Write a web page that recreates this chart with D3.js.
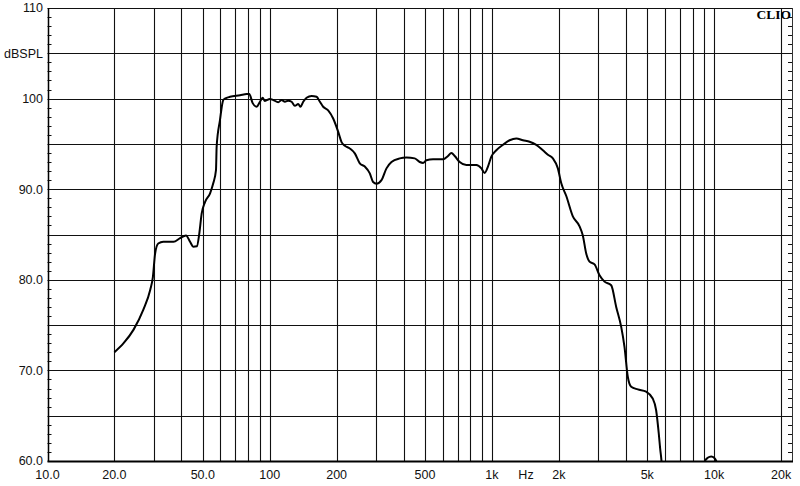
<!DOCTYPE html>
<html><head><meta charset="utf-8">
<script src="https://cdn.jsdelivr.net/npm/d3@7"></script>
<style>html,body{margin:0;padding:0;background:#fff;}svg{display:block;}</style>
</head><body>
<svg id="c" width="800" height="486"></svg>
<script>
const freqs = [20,22,24.4,27,29,29.8,30.5,31.5,33.2,36.9,39.5,42,43.8,45.3,47,48.2,49.4,51.2,53.9,55.7,57.3,57.7,59.7,61.8,62.9,66.3,73.5,78.8,80.9,83.8,87.3,90.4,92.9,95.1,100.2,103.7,109.2,113.1,117.1,121.1,125.4,129.8,134.3,137.7,141.5,146.5,154.3,162.5,168.2,174,183.2,193,203.2,210.5,217.8,229.3,241.5,254.3,267.9,282.1,291.9,302.3,318.4,335.3,353.1,384.7,412.3,449.4,473.3,489.7,507.2,543,602.3,634.2,657,680,715.9,767.2,851.2,896.4,927.4,959.5,993.8,1046.6,1120.6,1201,1287.5,1378.5,1477.3,1583.2,1695.3,1785.5,1880.4,1980.1,2051.2,2160.2,2312.3,2479.6,2564.3,2656.3,2748.9,2895.6,3049.1,3210.3,3440.1,3623.6,3816.6,3948.6,4086,4232,4532,4942,5291,5481,5631,5713,5790,5900,6500,8000,8800,9050,9350,9700,10000,10250,10600,12000];
const spl = [72.0,73.0,74.5,76.7,78.9,80.3,82.9,84.0,84.2,84.2,84.6,84.9,84.2,83.65,83.7,85.1,87.3,88.6,89.55,90.65,92.1,94.7,97.6,99.85,100.0,100.2,100.36,100.5,100.5,99.5,99.1,99.65,100.1,99.74,99.96,99.85,99.6,99.85,99.65,99.77,99.65,99.2,99.4,99.1,99.65,100.1,100.3,100.2,99.65,99.1,98.7,97.8,96.35,95.2,94.8,94.5,93.96,92.86,92.5,91.75,90.8,90.6,91.0,92.3,93.0,93.4,93.5,93.4,93.0,92.9,93.2,93.3,93.3,93.66,94.0,93.66,93.0,92.67,92.67,92.3,91.8,92.5,93.6,94.3,94.9,95.4,95.6,95.4,95.24,94.9,94.3,93.8,93.4,92.3,90.65,89.25,87.0,85.9,84.9,82.9,82.0,81.7,80.5,79.8,79.4,77.0,74.8,72.6,69.3,68.2,67.9,67.65,66.9,65.6,63.06,61.4,60.1,57.5,52,52,58,59.9,60.35,60.5,60.35,59.9,58,52];

const xGridFreqs = [20,30,40,50,60,70,80,90,100,200,300,400,500,600,700,800,900,1000,2000,3000,4000,5000,6000,7000,8000,9000,10000,20000];
const xTickVals = [10,20,50,100,200,500,1000,2000,5000,10000,20000];
const xTickLabels = ["10.0","20.0","50.0","100","200","500","1k","2k","5k","10k","20k"];
const yGridVals = [65,70,75,80,85,90,95,100,105,110];
const yTickVals = [110,105,100,90,80,70,60];
const yTickLabels = ["110","dBSPL","100","90.0","80.0","70.0","60.0"];

const L = 47.5, R = 792, T = 8, B = 461;
const x = d3.scaleLog().domain([10, 22400]).range([L, R]);
const y = d3.scaleLinear().domain([60, 110]).range([B, T]);
const svg = d3.select("#c");
const gc = "#111";
const font = "Liberation Sans, Arial, sans-serif";

svg.append("clipPath").attr("id","clip").append("rect")
  .attr("x", L).attr("y", T).attr("width", R-L).attr("height", B-T+0.5);

svg.append("g").selectAll("line").data(yGridVals).join("line")
  .attr("x1", L).attr("x2", R)
  .attr("y1", d => Math.round(y(d))+0.5).attr("y2", d => Math.round(y(d))+0.5)
  .attr("stroke", gc).attr("stroke-width", 1.1);
svg.append("g").selectAll("line").data(xGridFreqs).join("line")
  .attr("x1", d => Math.round(x(d))+0.5).attr("x2", d => Math.round(x(d))+0.5)
  .attr("y1", T).attr("y2", B)
  .attr("stroke", gc).attr("stroke-width", 1.1);

const minor = d3.range(61, 110).filter(v => v % 5 !== 0);
svg.append("g").selectAll("line").data(minor).join("line")
  .attr("x1", L).attr("x2", L+4)
  .attr("y1", d => Math.round(y(d))+0.5).attr("y2", d => Math.round(y(d))+0.5)
  .attr("stroke", gc);
svg.append("g").selectAll("line").data(minor).join("line")
  .attr("x1", R-4).attr("x2", R)
  .attr("y1", d => Math.round(y(d))+0.5).attr("y2", d => Math.round(y(d))+0.5)
  .attr("stroke", gc);

svg.append("line").attr("x1", Math.round(L)+0.5).attr("x2", Math.round(L)+0.5).attr("y1", T).attr("y2", B+1).attr("stroke", "#000").attr("stroke-width", 1.5);
svg.append("line").attr("x1", R+0.5).attr("x2", R+0.5).attr("y1", T).attr("y2", B+1).attr("stroke", "#333").attr("stroke-width", 1);
svg.append("line").attr("x1", L).attr("x2", R+1).attr("y1", B+0.5).attr("y2", B+0.5).attr("stroke", "#000").attr("stroke-width", 2);

const pts = freqs.map((f, i) => [f, spl[i]]);
svg.append("path").datum(pts)
  .attr("clip-path", "url(#clip)")
  .attr("fill", "none").attr("stroke", "#000").attr("stroke-width", 2)
  .attr("stroke-linejoin", "round")
  .attr("d", d3.line().x(d => x(d[0])).y(d => y(d[1])).curve(d3.curveMonotoneX));

svg.append("g").selectAll("text").data(yTickVals).join("text")
  .attr("x", 43).attr("y", d => y(d))
  .attr("dy", "0.35em").attr("text-anchor", "end")
  .attr("font-family", font).attr("font-size", 12.5).attr("fill", "#111")
  .text((d, i) => yTickLabels[i]);

svg.append("g").selectAll("text").data(xTickVals).join("text")
  .attr("x", d => x(d)).attr("y", 479)
  .attr("text-anchor", "middle")
  .attr("font-family", font).attr("font-size", 12.5).attr("fill", "#111")
  .text((d, i) => xTickLabels[i]);
svg.append("text").attr("x", 526).attr("y", 479).attr("text-anchor", "middle")
  .attr("font-family", font).attr("font-size", 12.5).attr("fill", "#111").text("Hz");

svg.append("text").attr("x", 791).attr("y", 19).attr("text-anchor", "end")
  .attr("font-family", "Liberation Serif, Times New Roman, serif").attr("font-weight", "bold")
  .attr("font-size", 13.5).attr("fill", "#000").text("CLIO");
</script>
</body></html>
